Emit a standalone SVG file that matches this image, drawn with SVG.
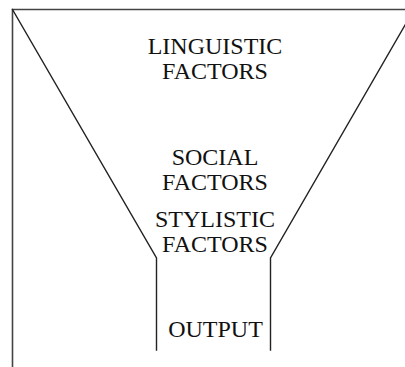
<svg xmlns="http://www.w3.org/2000/svg" width="405" height="367" viewBox="0 0 405 367">
<style>
.ln{fill:none;stroke:#222;stroke-width:1.4;stroke-linecap:square}
.frame{fill:none;stroke:#444;stroke-width:1.6}
.t{font-family:"Liberation Serif","Times New Roman",serif;font-size:24px;fill:#111;text-anchor:middle}
</style>
<rect width="405" height="367" fill="#fff"/>
<g id="frame">
<path class="frame" d="M12.5,367 V9.5 H405"/>
</g>
<g id="connectors">
<path class="ln" d="M12.5,9.5 L156.5,258 V350"/>
<path class="ln" d="M414,9.5 L270.5,258 V350"/>
</g>
<g id="linguistic">
<text class="t" x="215" y="53.5">LINGUISTIC</text>
<text class="t" x="215" y="78.5">FACTORS</text>
</g>
<g id="social">
<text class="t" x="215" y="165">SOCIAL</text>
<text class="t" x="215" y="190">FACTORS</text>
</g>
<g id="stylistic">
<text class="t" x="215" y="226.5">STYLISTIC</text>
<text class="t" x="215" y="251.5">FACTORS</text>
</g>
<g id="output">
<text class="t" x="215.5" y="336.5">OUTPUT</text>
</g>
</svg>
